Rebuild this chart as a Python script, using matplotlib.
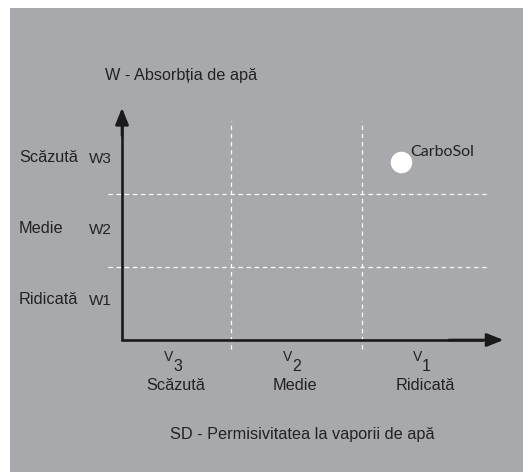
import matplotlib
matplotlib.use("Agg")  # headless
import matplotlib.pyplot as plt
from matplotlib.patches import Rectangle

plt.rcParams["font.family"] = ["Liberation Sans", "DejaVu Sans"]

# classes on each axis (zone boundaries in axis units)
v_codes = ["3", "2", "1"]
v_names = ["Scăzută", "Medie", "Ridicată"]
v_centers = [0.465, 1.56, 2.75]
v_bounds = [1.0, 2.2]

w_codes = ["W1", "W2", "W3"]
w_names = ["Ridicată", "Medie", "Scăzută"]
w_centers = [0.55, 1.53, 2.5]
w_bounds = [1.0, 2.0]

product = "CarboSol"
product_v = 2.56
product_w = 2.44

x_title = "SD - Permisivitatea la vaporii de apă"
y_title = "W - Absorbția de apă"

bg = "#a8a9ad"
ink = "#222222"
fs = 11.7

fig = plt.figure(figsize=(5.29, 4.72), dpi=100)
fig.patch.set_facecolor("white")

ax = fig.add_axes([0, 0, 1, 1])
ax.set_facecolor("none")
# origin of the diagram sits at pixel (122, 340)
ax.set_xlim(-122 / 109, (529 - 122) / 109)
ax.set_ylim(-(472 - 340) / 73, 340 / 73)
ax.axis("off")

# gray panel behind everything
ax.add_patch(Rectangle((10 / 529, 0), 513 / 529, 464 / 472,
                       transform=ax.transAxes, facecolor=bg,
                       edgecolor="none", zorder=0, clip_on=False))

# white dashed zone separators
for yb in w_bounds:
    ax.plot([-0.13, 3.38], [yb, yb], color="white", lw=0.9,
            ls=(0, (3.5, 3)), zorder=1)
for xb in v_bounds:
    ax.plot([xb, xb], [-0.12, 3.0], color="white", lw=0.9,
            ls=(0, (3.5, 3)), zorder=1)

# axes with arrows
ax.plot([0, 0, 3.3], [3.0, 0, 0], color="#1a1a1a", lw=1.9,
        solid_joinstyle="miter", zorder=2)
arrow = dict(arrowstyle="-|>,head_length=0.5,head_width=0.2", color="#1a1a1a",
             lw=1.9, mutation_scale=20, shrinkA=0, shrinkB=0)
ax.annotate("", xy=(3.5, 0), xytext=(3.0, 0), arrowprops=arrow, zorder=2)
ax.annotate("", xy=(0, 3.18), xytext=(0, 2.8), arrowprops=arrow, zorder=2)

# y-axis labels
for name, code, yc in zip(w_names, w_codes, w_centers):
    ax.text(-0.945, yc, name, fontsize=fs, color=ink, ha="left", va="center")
    ax.text(-0.30, yc - 0.02, code, fontsize=11, color=ink, ha="left",
            va="center", fontweight="light")

# x-axis labels: small V with a larger, lowered digit
for code, name, xc in zip(v_codes, v_names, v_centers):
    ax.text(xc - 0.04, -0.235, "V", fontsize=10, color=ink,
            ha="center", va="center")
    ax.text(xc + 0.045, -0.363, code, fontsize=11.5, color=ink,
            ha="center", va="center")
    ax.text(xc + 0.03, -0.63, name, fontsize=fs, color=ink,
            ha="center", va="center")

ax.text(-0.156, 3.63, y_title, fontsize=fs, color=ink, ha="left", va="center")
ax.text(1.65, -1.29, x_title, fontsize=fs, color=ink, ha="center", va="center")

# product marker
ax.plot([product_v], [product_w], "o", color="white", markersize=14.5, zorder=3)
ax.text(product_v + 0.08, product_w + 0.14, product, fontsize=11.5,
        color=ink, ha="left", va="center", family=["Lato", "DejaVu Sans"])

fig.savefig("out.png", dpi=100)
